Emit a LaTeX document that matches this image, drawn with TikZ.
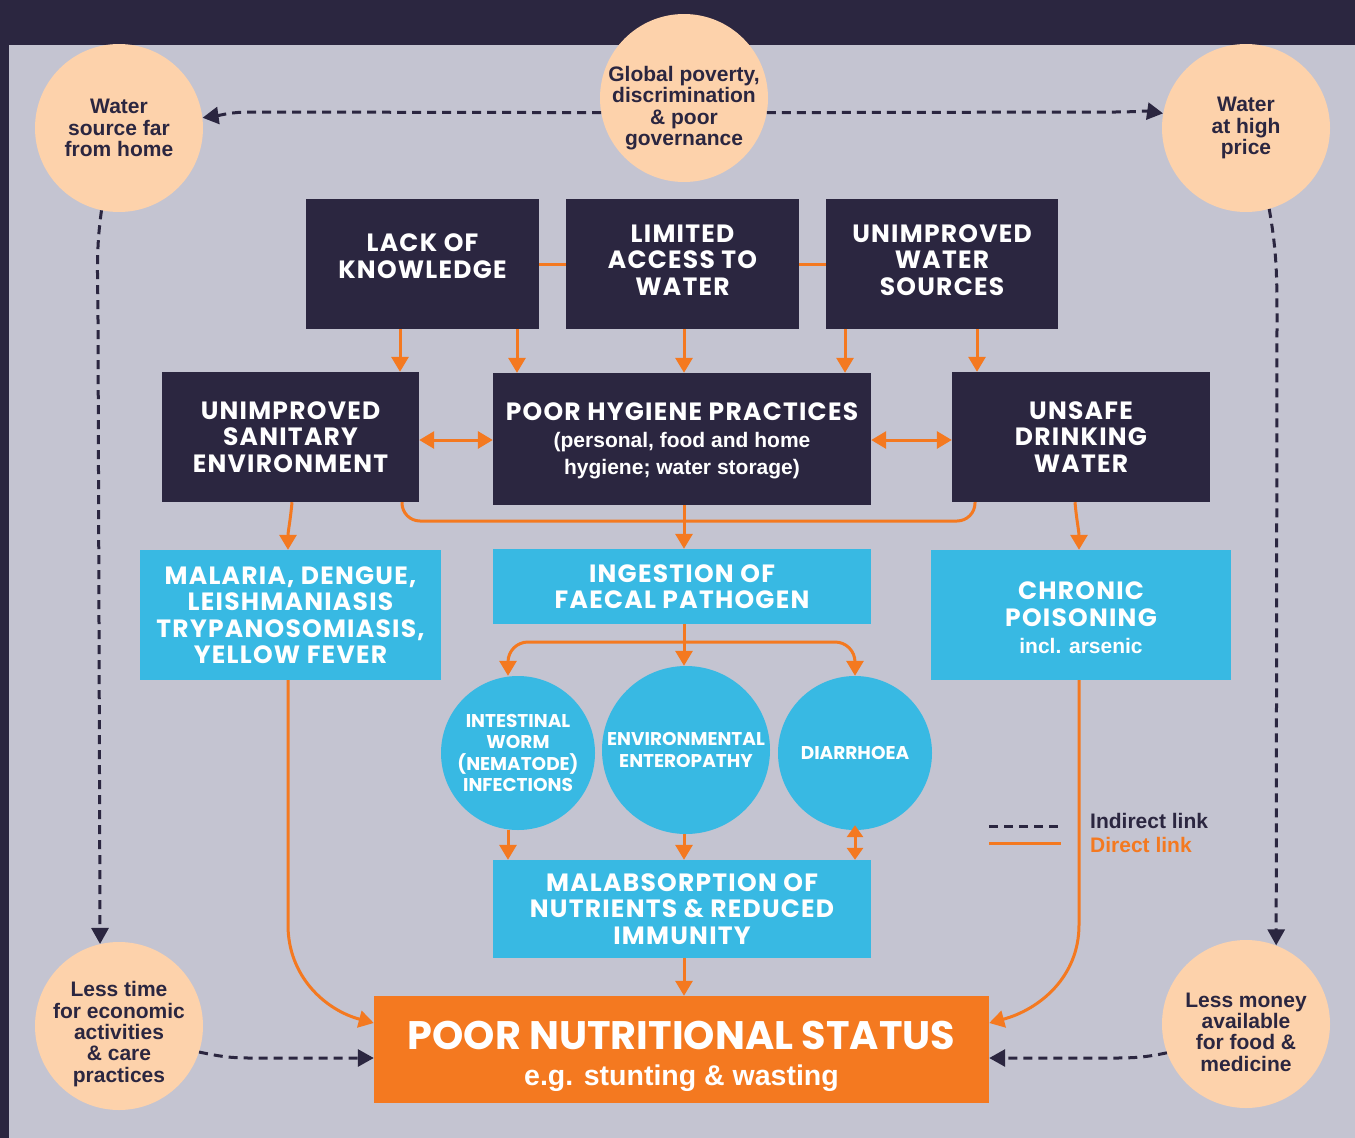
\documentclass[tikz,border=0pt]{standalone}
\usepackage{fontspec}
\setmainfont{Liberation Sans}
\newfontfamily\headfont{Poppins}[LetterSpace=5]
\newfontfamily\discfont{Poppins}
\usetikzlibrary{arrows.meta}

\definecolor{ink}{HTML}{2B2640}
\definecolor{panel}{HTML}{C4C4D1}
\definecolor{peach}{HTML}{FDD2AB}
\definecolor{sky}{HTML}{38B9E3}
\definecolor{flame}{HTML}{F47920}

\tikzset{
  otip/.tip={Triangle[length=15pt,width=17pt]},
  ostub/.tip={Triangle[length=12pt,width=16pt]},
  dtip/.tip={Triangle[length=16pt,width=17pt]},
  headtxt/.style={text=white, align=center, inner sep=0pt,
    font=\headfont\bfseries\fontsize{25}{26.5}\selectfont},
  disctxt/.style={text=white, align=center, inner sep=0pt,
    font=\discfont\bfseries\fontsize{18.5}{21.3}\selectfont},
  ptxt/.style={text=ink, align=center, inner sep=0pt,
    font=\bfseries\fontsize{21}{21.3}\selectfont},
  darkbox/.style={fill=ink, inner sep=0pt, headtxt},
  skybox/.style={fill=sky, inner sep=0pt, headtxt},
  peachdisc/.style={circle, fill=peach, minimum size=168pt, inner sep=0pt},
  skydisc/.style={circle, fill=sky, inner sep=0pt, disctxt},
  oline/.style={draw=flame, line width=3pt},
  oarrow/.style={oline, -{otip}},
  oboth/.style={oline, {otip}-{otip}},
  oshort/.style={oline, {ostub}-{ostub}},
  dline/.style={draw=ink, line width=3pt, dash pattern=on 9pt off 6pt, -{dtip}},
}

\begin{document}
\begin{tikzpicture}[x=1pt,y=1pt]
% frame and panel
\fill[ink] (0,0) rectangle (1355,-1138);
\fill[panel] (9,-45) rectangle (1355,-1138);
\useasboundingbox (0,0) rectangle (1355,-1138);

% outer causes and consequences
\node[peachdisc, label={[name=gp-t, ptxt, yshift=-10pt]center:{Global poverty,\\discrimination\\\& poor\\governance}}] (gp) at (684,-98) {};
\node[peachdisc, label={[name=wf-t, ptxt]center:{Water\\source far\\from home}}] (wf) at (119,-128) {};
\node[peachdisc, label={[name=hp-t, ptxt]center:{Water\\at high\\price}}] (hp) at (1246,-128) {};
\node[peachdisc, label={[name=lt-t, ptxt, yshift=-8pt]center:{Less time\\for economic\\activities\\\& care\\practices}}] (lt) at (119,-1026) {};
\node[peachdisc, label={[name=lm-t, ptxt, yshift=-8pt]center:{Less money\\available\\for food \&\\medicine}}] (lm) at (1246,-1024) {};

% underlying causes
\node[darkbox, minimum width=233pt, minimum height=130pt,
  label={[name=lok-t, headtxt, yshift=8pt]center:{LACK OF\\KNOWLEDGE}}] (lok) at (422.5,-264) {};
\node[darkbox, minimum width=233pt, minimum height=130pt,
  label={[name=law-t, headtxt, yshift=4pt]center:{LIMITED\\ACCESS TO\\WATER}}] (law) at (682.5,-264) {};
\node[darkbox, minimum width=232pt, minimum height=130pt,
  label={[name=uws-t, headtxt, yshift=4pt]center:{UNIMPROVED\\WATER\\SOURCES}}] (uws) at (942,-264) {};

% immediate conditions
\node[darkbox, minimum width=257pt, minimum height=130pt] (use) at (290.5,-437) {UNIMPROVED\\SANITARY\\ENVIRONMENT};
\node[darkbox, minimum width=378pt, minimum height=132pt,
  label={[name=php-t, text=white, align=center, inner sep=0pt, yshift=-2pt,
    font=\bfseries\fontsize{21}{27}\selectfont]center:{{\headfont\fontsize{25}{27}\selectfont POOR HYGIENE PRACTICES}\\(personal, food and home\\hygiene; water storage)}}] (php) at (682,-439) {};
\node[darkbox, minimum width=258pt, minimum height=130pt] (udw) at (1081,-437) {UNSAFE\\DRINKING\\WATER};

% health outcomes
\node[skybox, minimum width=301pt, minimum height=130pt] (mal) at (290.5,-615) {MALARIA, DENGUE,\\LEISHMANIASIS\\TRYPANOSOMIASIS,\\YELLOW FEVER};
\node[skybox, minimum width=378pt, minimum height=75pt] (ing) at (682,-586.5) {INGESTION OF\\FAECAL PATHOGEN};
\node[skybox, minimum width=300pt, minimum height=130pt,
  label={[name=chr-t, text=white, align=center, inner sep=0pt, yshift=-3pt,
    font=\bfseries\fontsize{21}{27}\selectfont]center:{{\headfont\fontsize{25}{27}\selectfont CHRONIC}\\{\headfont\fontsize{25}{27}\selectfont POISONING}\\incl. arsenic}}] (chr) at (1081,-615) {};

\node[skydisc, minimum size=154pt] (iw) at (518,-753) {INTESTINAL\\WORM\\(NEMATODE)\\INFECTIONS};
\node[skydisc, minimum size=168pt] (ee) at (686,-750) {ENVIRONMENTAL\\ENTEROPATHY};
\node[skydisc, minimum size=154pt] (dia) at (855,-753) {DIARRHOEA};

\node[skybox, minimum width=378pt, minimum height=98pt] (mab) at (682,-909) {MALABSORPTION OF\\NUTRIENTS \& REDUCED\\IMMUNITY};

% final outcome
\node[fill=flame, minimum width=615pt, minimum height=107pt, inner sep=0pt,
  label={[name=pns-t, text=white, align=center, inner sep=0pt, yshift=-7pt,
    font=\bfseries\fontsize{28.5}{35.5}\selectfont]center:{{\discfont\fontsize{39.8}{35.5}\selectfont POOR NUTRITIONAL STATUS}\\e.g. stunting \& wasting}}] (pns) at (681.5,-1049.5) {};

% links among underlying causes
\draw[oline] (lok.east) -- (law.west);
\draw[oline] (law.east) -- (uws.west);
\draw[oarrow] (lok.south -| 400,0) -- (use.north -| 400,0);
\draw[oarrow] (lok.south -| 517,0) -- (php.north -| 517,0);
\draw[oarrow] (law.south -| 684,0) -- (php.north -| 684,0);
\draw[oarrow] (uws.south -| 845,0) -- (php.north -| 845,0);
\draw[oarrow] (uws.south -| 977,0) -- (udw.north -| 977,0);
\draw[oboth] (use.east |- 0,-440) -- (php.west |- 0,-440);
\draw[oboth] (php.east |- 0,-440) -- (udw.west |- 0,-440);

% immediate conditions to outcomes
\draw[oarrow] (use.south -| 292,0) to[out=-95,in=90] (mal.north -| 288,0);
\draw[oline, rounded corners=18pt] (use.south -| 402,0) -- (402,-521) -- (975,-521) -- (udw.south -| 975,0);
\draw[oarrow] (php.south -| 684,0) -- (ing.north -| 684,0);
\draw[oarrow] (udw.south -| 1075,0) to[out=-85,in=90] (chr.north -| 1079,0);

% faecal pathogen branches
\coordinate (split) at (684,-642);
\draw[oarrow] (ing.south -| 684,0) -- (ee.north -| 684,0);
\draw[oarrow, rounded corners=20pt] (split) -- (508,-642) -- (iw.north -| 508,0);
\draw[oarrow, rounded corners=20pt] (split) -- (855,-642) -- (dia.north -| 855,0);
\draw[oarrow] (iw.south -| 508,0) -- (mab.north -| 508,0);
\draw[oarrow] (ee.south -| 684,0) -- (mab.north -| 684,0);
\draw[oshort] ([yshift=5pt]dia.south) -- (mab.north -| 855,0);
\draw[oarrow] (mab.south -| 684,0) -- (pns.north -| 684,0);

% side branches into nutritional status
\draw[oarrow] (mal.south -| 288,0) -- (288,-925) to[out=-90,in=165] (pns.west |- 0,-1023);
\draw[oarrow] (chr.south -| 1079,0) -- (1079,-925) to[out=-90,in=15] (pns.east |- 0,-1023);

% indirect links
\draw[dline] (gp.190) -- (250,-112) to[out=180,in=8] (wf.7);
\draw[dline] (gp.-10) -- (1115,-112) to[out=0,in=172] (hp.170);
\draw[dline] (wf.258) to[out=262,in=90] (98,-320) -- (lt.103);
\draw[dline] (hp.286) to[out=280,in=90] (1277,-320) -- (lm.69);
\draw[dline] (lt.-18) to[out=-12,in=180] (250,-1058) -- (pns.west |- 0,-1058);
\draw[dline] (lm.200) to[out=192,in=0] (1115,-1058) -- (pns.east |- 0,-1058);

% legend
\node[anchor=west, inner sep=0pt, text=ink, font=\bfseries\fontsize{21}{24}\selectfont] (leg-ind) at (1090,-821) {Indirect link};
\node[anchor=west, inner sep=0pt, text=flame, font=\bfseries\fontsize{21}{24}\selectfont] (leg-dir) at (1090,-845) {Direct link};
\draw[ink, line width=3pt, dash pattern=on 9pt off 6pt] (989,-826) -- (1061,-826);
\draw[flame, line width=3pt] (989,-843) -- (1061,-843);
\end{tikzpicture}
\end{document}
